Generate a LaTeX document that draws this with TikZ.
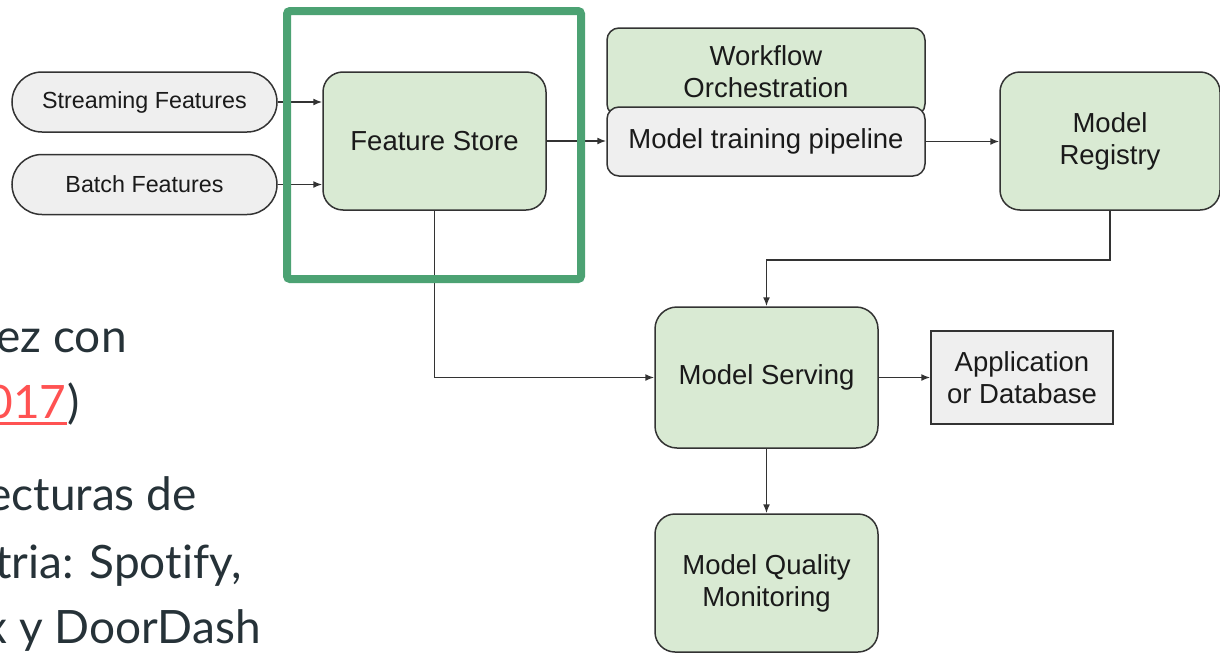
\documentclass[tikz,border=0pt]{standalone}
\usepackage{fontspec}
\setmainfont{Liberation Sans}
\newfontfamily\bgfont[Ligatures=NoCommon]{Lato}
\usetikzlibrary{arrows.meta}
\definecolor{boxgreen}{HTML}{D9EAD3}
\definecolor{boxgray}{HTML}{EFEFEF}
\definecolor{framegreen}{HTML}{4CA273}
\definecolor{edgecol}{HTML}{333333}
\definecolor{txtcol}{HTML}{1A1A1A}
\definecolor{bgtxt}{HTML}{263238}
\definecolor{linkred}{HTML}{FF5252}
\begin{document}
\begin{tikzpicture}[x=0.5pt,y=-0.5pt,
  box/.style={draw=edgecol, line width=0.75pt, text=txtcol, align=center, inner sep=0pt,
    font=\fontsize{13.75}{16}\selectfont},
  gbox/.style={box, fill=boxgreen, rounded corners=10pt},
  pill/.style={box, fill=boxgray, rounded corners=15pt, minimum width=132.5pt, minimum height=30pt,
    font=\fontsize{11.65}{14}\selectfont},
  bigbox/.style={gbox, minimum width=111.5pt, minimum height=69pt},
  arr/.style={draw=edgecol, line width=0.75pt, -{Latex[length=4.5pt,width=3.5pt]}},
  hl/.style={draw=framegreen, line width=4pt, rounded corners=1.5pt, inner sep=0pt},
  bg/.style={text=bgtxt, font=\bgfont\fontsize{23}{27}\selectfont, inner sep=0pt, anchor=base east}
]
\useasboundingbox (0,0) rectangle (1220,653);
\clip (0,0) rectangle (1220,653);

% background page text
\node[bg] (l1) at (127,352) {ez con};
\node[bg, text=linkred] (l2a) at (67,418) {017};
\node[bg, anchor=base west] (l2b) at (l2a.base east) {)};
\draw[linkred, line width=1.5pt] ([yshift=-2.75pt]l2a.base west) -- ([yshift=-2.75pt]l2a.base east);
\node[bg] (l3) at (197,510) {ecturas de};
\node[bg] (l4) at (242,578) {tria: Spotify,};
\node[bg] (l5) at (261,643) {x y DoorDash};

% nodes
\node[pill] (sf) at (144.5,102) {Streaming Features};
\node[pill] (bf) at (144.5,184.5) {Batch Features};
\node[bigbox] (fs) at (434.5,141) {Feature Store};
\node[box, fill=boxgreen, rounded corners=6pt, minimum width=159pt, minimum height=44pt] (wo) at (766,72) {Workflow\\Orchestration};
\node[box, fill=boxgray, rounded corners=6pt, minimum width=159pt, minimum height=34.5pt] (mtp) at (766,141.5) {Model training pipeline};
\node[bigbox, minimum width=110pt] (mr) at (1110,141) {Model\\Registry};
\node[bigbox, rounded corners=11pt, minimum height=70.5pt] (ms) at (766.5,377.5) {Model Serving};
\node[box, fill=boxgray, minimum width=91pt, minimum height=46.5pt] (app) at (1022,377.5) {Application\\or Database};
\node[bigbox] (mqm) at (766.5,583) {Model Quality\\Monitoring};

% connectors
\draw[arr] (sf.east) -- (sf.east -| fs.west);
\draw[arr] (bf.east) -- (bf.east -| fs.west);
\draw[arr] (fs.east) -- (fs.east -| mtp.west);
\draw[arr] (mtp.east) -- (mtp.east -| mr.west);
\draw[arr] (mr.south) -- ++(0,49) -| (ms.north);
\draw[arr] (fs.south) |- (ms.west);
\draw[arr] (ms.east) -- (ms.east -| app.west);
\draw[arr] (ms.south) -- (mqm.north);

% highlight frame
\node[hl, minimum width=147pt, minimum height=134pt] (frame) at (434,145) {};
\end{tikzpicture}
\end{document}
